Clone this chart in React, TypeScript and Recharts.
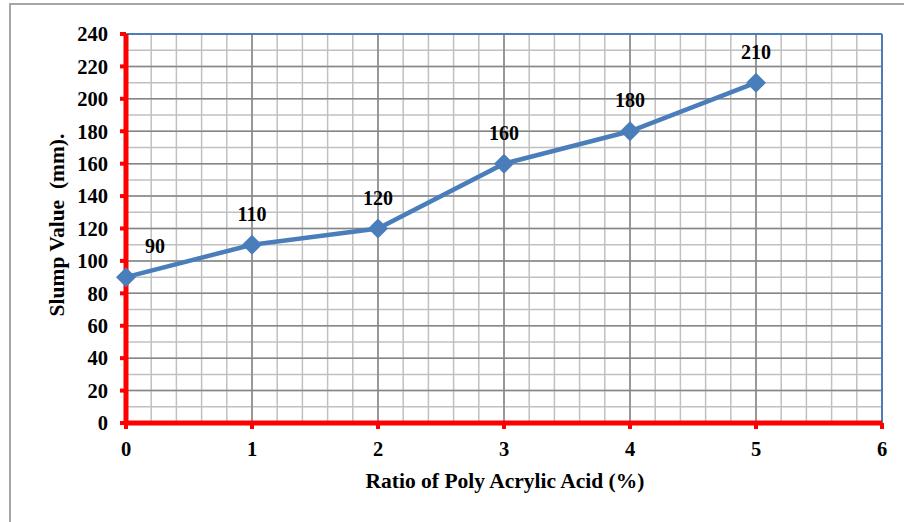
import React from 'react';
import {
  LineChart,
  Line,
  XAxis,
  YAxis,
  CartesianGrid,
  ReferenceLine,
  LabelList,
} from 'recharts';

// polymer dosage (%) and measured slump (mm)
const ratios = [0, 1, 2, 3, 4, 5];
const slump = [90, 110, 120, 160, 180, 210];

const xTicks = [0, 1, 2, 3, 4, 5, 6];
const yTicks = [0, 20, 40, 60, 80, 100, 120, 140, 160, 180, 200, 220, 240];

// fine graph-paper grid: every 0.2 on x, every 10 on y
const xMinor = Array.from({ length: 31 }, (_, i) => +(i * 0.2).toFixed(1));
const yMinor = Array.from({ length: 25 }, (_, i) => i * 10);

const data = ratios.map((r, i) => ({ ratio: r, slump: slump[i] }));

const FONT = 'Liberation Serif, Times New Roman, serif';
const RED = '#ff0000';
const BLUE = '#4a7ebb';

const Diamond = (props: any) => {
  const { cx, cy } = props;
  if (cx == null || cy == null) return null;
  const r = 10;
  return (
    <path
      d={`M${cx},${cy - r} L${cx + r},${cy} L${cx},${cy + r} L${cx - r},${cy} Z`}
      fill={BLUE}
      stroke="none"
    />
  );
};

const ValueLabel = (props: any) => {
  const { x, y, value, index } = props;
  const dx = index === 0 ? 29 : 0;
  return (
    <text
      x={x + dx}
      y={y - 31}
      textAnchor="middle"
      dominantBaseline="central"
      fontFamily={FONT}
      fontWeight="bold"
      fontSize={20}
      fill="#000"
    >
      {value}
    </text>
  );
};

const tickStyle = { fontFamily: FONT, fontWeight: 'bold', fontSize: 20.5, fill: '#000' };

export default function App() {
  return (
    <div
      style={{
        position: 'absolute',
        left: 0,
        top: 0,
        width: 904,
        height: 522,
        background: '#fff',
        overflow: 'hidden',
      }}
    >
      <div
        style={{
          position: 'absolute',
          left: 9,
          top: 3,
          width: 920,
          height: 540,
          borderTop: '2px solid #a6a6a6',
          borderLeft: '2px solid #a6a6a6',
        }}
      />
      <div style={{ position: 'absolute', left: 0, top: 0 }}>
        <LineChart
          width={904}
          height={522}
          data={data}
          margin={{ top: 34, right: 22, bottom: 59, left: 56 }}
        >
          <CartesianGrid
            stroke="#c0c0c0"
            strokeWidth={1.5}
            horizontalValues={yMinor}
            verticalValues={xMinor}
          />
          <CartesianGrid
            stroke="#868686"
            strokeWidth={1.5}
            horizontalValues={yTicks}
            verticalValues={xTicks}
          />
          <ReferenceLine y={240} stroke={BLUE} strokeWidth={2} />
          <ReferenceLine x={6} stroke={BLUE} strokeWidth={2} />
          <XAxis
            dataKey="ratio"
            type="number"
            domain={[0, 6]}
            ticks={xTicks}
            height={40}
            axisLine={{ stroke: RED, strokeWidth: 5 }}
            tickLine={{ stroke: RED, strokeWidth: 4 }}
            tickSize={6}
            tickMargin={12}
            tick={tickStyle}
            label={() => (
              <text
                x={505}
                y={481}
                textAnchor="middle"
                dominantBaseline="central"
                fontFamily={FONT}
                fontWeight="bold"
                fontSize={21.5}
                fill="#000"
              >
                Ratio of Poly Acrylic Acid (%)
              </text>
            )}
          />
          <YAxis
            type="number"
            domain={[0, 240]}
            ticks={yTicks}
            width={70}
            axisLine={{ stroke: RED, strokeWidth: 5 }}
            tickLine={{ stroke: RED, strokeWidth: 4 }}
            tickSize={6}
            tickMargin={12}
            tick={tickStyle}
            interval={0}
            label={() => (
              <text
                x={57}
                y={225}
                textAnchor="middle"
                dominantBaseline="central"
                transform="rotate(-90 57 225)"
                fontFamily={FONT}
                fontWeight="bold"
                fontSize={21.5}
                fill="#000"
                xmlSpace="preserve"
                style={{ whiteSpace: 'pre' }}
              >
                {'Slump Value  (mm).'}
              </text>
            )}
          />
          <Line
            dataKey="slump"
            type="linear"
            stroke={BLUE}
            strokeWidth={4.5}
            dot={<Diamond />}
            activeDot={false}
            isAnimationActive={false}
            zIndex={600}
          >
            <LabelList dataKey="slump" content={<ValueLabel />} />
          </Line>
        </LineChart>
      </div>
    </div>
  );
}
